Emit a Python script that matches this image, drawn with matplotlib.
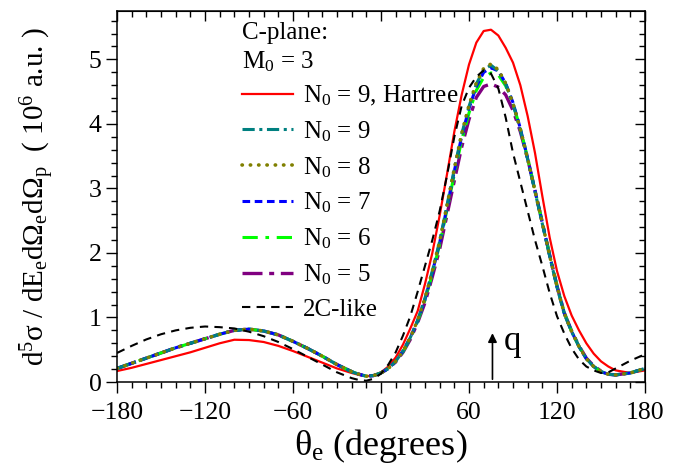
import numpy as np
import matplotlib
matplotlib.use('Agg')
import matplotlib.pyplot as plt
from matplotlib.ticker import MultipleLocator

plt.rcParams['font.family'] = ['Liberation Serif', 'DejaVu Serif']
plt.rcParams['mathtext.fontset'] = 'custom'
plt.rcParams['mathtext.rm'] = 'Liberation Serif'
plt.rcParams['mathtext.it'] = 'Liberation Serif:italic'
plt.rcParams['mathtext.bf'] = 'Liberation Serif:bold'

# angle grid (degrees)
theta = [-180, -170, -160, -150, -140, -130, -120, -110, -100, -90, -80, -70, -60,
         -50, -40, -30, -20, -15, -10, -5, 0, 5, 10, 15, 20, 25, 30, 35, 40, 45,
         50, 55, 60, 65, 70, 75, 80, 85, 90, 95, 100, 105, 110, 115, 120, 125,
         130, 135, 140, 145, 150, 155, 160, 170, 180]

hartree = [0.17, 0.22, 0.28, 0.34, 0.40, 0.46, 0.53, 0.60, 0.655, 0.65, 0.62, 0.56, 0.48,
           0.39, 0.30, 0.21, 0.14, 0.11, 0.09, 0.10, 0.15, 0.24, 0.38, 0.58, 0.83, 1.10, 1.52, 2.00, 2.58, 3.22,
           3.88, 4.45, 4.92, 5.26, 5.44, 5.46, 5.37, 5.18, 4.95, 4.60, 4.12, 3.55, 2.88, 2.24, 1.72, 1.33,
           1.03, 0.80, 0.60, 0.44, 0.32, 0.24, 0.18, 0.14, 0.18]

n9 = [0.21, 0.29, 0.37, 0.45, 0.53, 0.60, 0.67, 0.74, 0.80, 0.82, 0.79, 0.73, 0.63,
      0.52, 0.40, 0.27, 0.16, 0.12, 0.09, 0.10, 0.14, 0.21, 0.32, 0.48, 0.69, 0.96, 1.30, 1.72, 2.18, 2.74,
      3.30, 3.84, 4.27, 4.62, 4.84, 4.91, 4.82, 4.62, 4.31, 3.91, 3.45, 2.95, 2.45, 1.95, 1.47, 1.05,
      0.78, 0.55, 0.36, 0.24, 0.16, 0.12, 0.11, 0.14, 0.21]

n8 = [0.21, 0.29, 0.37, 0.45, 0.53, 0.60, 0.67, 0.74, 0.80, 0.82, 0.79, 0.73, 0.63,
      0.52, 0.40, 0.27, 0.16, 0.12, 0.09, 0.10, 0.14, 0.21, 0.32, 0.48, 0.69, 0.96, 1.30, 1.72, 2.18, 2.74,
      3.31, 3.85, 4.29, 4.64, 4.86, 4.93, 4.84, 4.63, 4.32, 3.92, 3.46, 2.96, 2.46, 1.96, 1.48, 1.06,
      0.78, 0.55, 0.36, 0.24, 0.16, 0.12, 0.11, 0.14, 0.21]

n7 = [0.21, 0.29, 0.37, 0.45, 0.53, 0.60, 0.67, 0.74, 0.80, 0.82, 0.79, 0.73, 0.63,
      0.52, 0.40, 0.27, 0.16, 0.12, 0.09, 0.10, 0.14, 0.21, 0.32, 0.48, 0.69, 0.95, 1.28, 1.70, 2.16, 2.71,
      3.27, 3.81, 4.24, 4.58, 4.80, 4.87, 4.82, 4.63, 4.33, 3.93, 3.46, 2.96, 2.46, 1.96, 1.48, 1.06,
      0.78, 0.55, 0.36, 0.24, 0.16, 0.12, 0.11, 0.14, 0.21]

n6 = [0.21, 0.29, 0.37, 0.45, 0.53, 0.60, 0.67, 0.74, 0.80, 0.82, 0.79, 0.73, 0.63,
      0.52, 0.40, 0.27, 0.16, 0.12, 0.09, 0.10, 0.14, 0.21, 0.32, 0.47, 0.68, 0.94, 1.27, 1.68, 2.13, 2.67,
      3.22, 3.75, 4.17, 4.52, 4.72, 4.79, 4.76, 4.59, 4.31, 3.93, 3.47, 2.97, 2.47, 1.97, 1.49, 1.07,
      0.78, 0.55, 0.36, 0.24, 0.16, 0.12, 0.11, 0.14, 0.21]

n5 = [0.21, 0.29, 0.37, 0.45, 0.53, 0.60, 0.67, 0.74, 0.80, 0.82, 0.79, 0.73, 0.63,
      0.52, 0.40, 0.27, 0.16, 0.12, 0.09, 0.10, 0.14, 0.21, 0.31, 0.46, 0.66, 0.92, 1.23, 1.63, 2.06, 2.59,
      3.12, 3.64, 4.07, 4.41, 4.58, 4.62, 4.57, 4.45, 4.21, 3.88, 3.46, 2.97, 2.47, 1.97, 1.49, 1.07,
      0.79, 0.56, 0.37, 0.25, 0.17, 0.12, 0.11, 0.14, 0.21]

c2_like = [0.45, 0.56, 0.66, 0.74, 0.80, 0.84, 0.86, 0.85, 0.83, 0.78, 0.71, 0.62, 0.51,
           0.39, 0.27, 0.15, 0.06, 0.03, 0.02, 0.05, 0.13, 0.27, 0.46, 0.72, 1.02, 1.40, 1.80, 2.20, 2.65, 3.20,
           3.80, 4.28, 4.56, 4.73, 4.83, 4.78, 4.55, 4.10, 3.55, 3.10, 2.65, 2.20, 1.80, 1.38, 1.02, 0.75,
           0.52, 0.35, 0.24, 0.18, 0.14, 0.15, 0.21, 0.33, 0.43]

q_angle = 76
q_len = 0.80

fig = plt.figure(figsize=(6.93, 4.65), dpi=100)
ax = fig.add_axes([117/693, 83/465, 528/693, 371/465])

ax.plot(theta, hartree, color='#ff0000', lw=1.6, label='N$_0$ = 9, Hartree')
ax.plot(theta, n5, color='#800080', lw=2.4, dashes=(6, 2, 1.5, 2), label='N$_0$ = 5')
ax.plot(theta, n6, color='#00ff00', lw=2.2, dashes=(5, 2.5, 1.2, 2.5), label='N$_0$ = 6')
ax.plot(theta, n7, color='#0000ff', lw=2.2, dashes=(2.5, 1.5), label='N$_0$ = 7')
ax.plot(theta, n9, color='#008080', lw=2.2, dashes=(4, 1.5, 1, 1.5), label='N$_0$ = 9')
ax.plot(theta, n8, color='#808000', lw=2.6, dashes=(0.1, 2.2), dash_capstyle='round', label='N$_0$ = 8')
ax.plot(theta, c2_like, color='black', lw=1.5, dashes=(4, 3), label='2C-like')

ax.annotate('', xy=(q_angle, q_len), xytext=(q_angle, 0),
            arrowprops=dict(arrowstyle='-|>', color='black', lw=1.2, mutation_scale=13))
ax.text(q_angle + 8, q_len * 0.78, 'q', fontsize=25, va='center', ha='left')

ax.set_xlim(-180, 180)
ax.set_ylim(0, 5.75)
ax.xaxis.set_major_locator(MultipleLocator(60))
ax.xaxis.set_minor_locator(MultipleLocator(10))
ax.yaxis.set_major_locator(MultipleLocator(1))
ax.yaxis.set_minor_locator(MultipleLocator(0.2))
ax.tick_params(axis='both', which='major', direction='out', length=8, width=1, labelsize=18.5)
ax.tick_params(axis='x', which='major', pad=6.5)
ax.tick_params(axis='y', which='major', pad=3)
ax.tick_params(axis='both', which='minor', direction='out', length=4.5, width=1)
for s in ax.spines.values():
    s.set_linewidth(1.1)

top = ax.secondary_xaxis('top')
top.xaxis.set_major_locator(MultipleLocator(60))
top.xaxis.set_minor_locator(MultipleLocator(10))
top.tick_params(which='major', direction='in', length=7, width=1, labeltop=False)
top.tick_params(which='minor', direction='in', length=4, width=1)
right = ax.secondary_yaxis('right')
right.yaxis.set_major_locator(MultipleLocator(1))
right.yaxis.set_minor_locator(MultipleLocator(0.2))
right.tick_params(which='major', direction='in', length=7, width=1, labelright=False)
right.tick_params(which='minor', direction='in', length=4, width=1)

ax.set_xlabel('θ$_\\mathrm{e}$ (degrees)', fontsize=26, labelpad=0)
ax.xaxis.set_label_coords(0.5, -0.12)
ax.set_ylabel('d$^\\mathrm{5}$σ / dE$_\\mathrm{e}$dΩ$_\\mathrm{e}$dΩ$_\\mathrm{p}$  ( 10$^\\mathrm{6}$ a.u. )',
              fontsize=21)
ax.yaxis.set_label_coords(-0.113, 0.5)

ax.text(0.236, 0.94, 'C-plane:', transform=ax.transAxes, fontsize=18, va='center')
ax.text(0.236, 0.862, 'M$_0$ = 3', transform=ax.transAxes, fontsize=18, va='center')

h, l = ax.get_legend_handles_labels()
order = ['N$_0$ = 9, Hartree', 'N$_0$ = 9', 'N$_0$ = 8', 'N$_0$ = 7', 'N$_0$ = 6', 'N$_0$ = 5', '2C-like']
hd = dict(zip(l, h))
ax.legend([hd[k] for k in order], order, loc='upper left', bbox_to_anchor=(0.236, 0.804),
          frameon=False, fontsize=18, handlelength=2.06, handletextpad=0.4,
          labelspacing=0.45, borderpad=0, borderaxespad=0)

fig.savefig('out.png', dpi=100)
